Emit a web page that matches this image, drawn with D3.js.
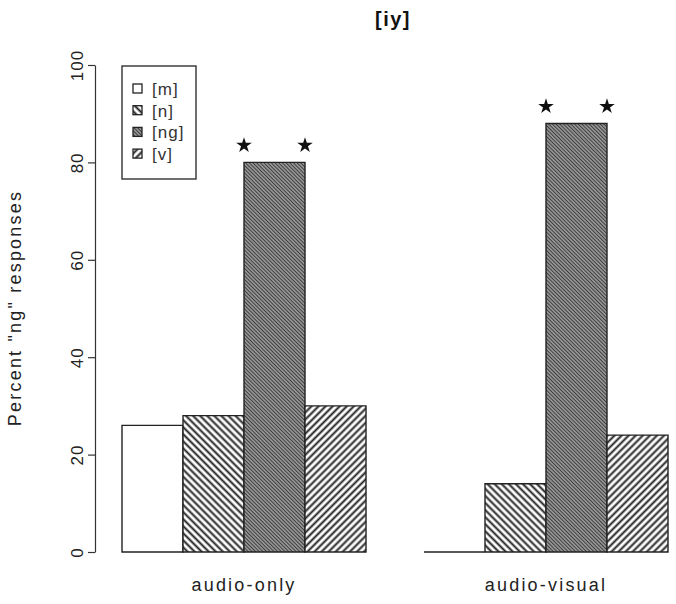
<!DOCTYPE html>
<html>
<head>
<meta charset="utf-8">
<script src="https://cdn.jsdelivr.net/npm/d3@7"></script>
<style>
  body { margin: 0; background: #fff; }
  svg { display: block; font-family: "Liberation Sans", Arial, sans-serif; }
</style>
</head>
<body>
<div id="chart"></div>
<script>
// data
var groups = ["audio-only", "audio-visual"];
var sounds = ["[m]", "[n]", "[ng]", "[v]"];
var m_values = [26, 0];
var n_values = [28, 14];
var ng_values = [80, 88];
var v_values = [30, 24];
var y_ticks = [0, 20, 40, 60, 80, 100];
// significance stars sit on both edges of the [ng] bar
var star_groups = ["audio-only", "audio-visual"];

var width = 676, height = 604;

var table = [];
groups.forEach(function (g, i) {
  table.push({ group: g, sound: "[m]", value: m_values[i] });
  table.push({ group: g, sound: "[n]", value: n_values[i] });
  table.push({ group: g, sound: "[ng]", value: ng_values[i] });
  table.push({ group: g, sound: "[v]", value: v_values[i] });
});

var svg = d3.select("#chart").append("svg")
  .attr("width", width)
  .attr("height", height);

// hatch patterns, R barplot style
var defs = svg.append("defs");
function hatch(id, spacing, angle, strokeW, color, bg) {
  var p = defs.append("pattern")
    .attr("id", id)
    .attr("patternUnits", "userSpaceOnUse")
    .attr("width", spacing)
    .attr("height", spacing)
    .attr("patternTransform", "rotate(" + angle + ")");
  p.append("rect").attr("width", spacing).attr("height", spacing).attr("fill", bg);
  p.append("line")
    .attr("x1", spacing / 2).attr("x2", spacing / 2)
    .attr("y1", 0).attr("y2", spacing)
    .attr("stroke", color)
    .attr("stroke-width", strokeW);
}
hatch("pat_n", 5, -45, 2, "#222", "#fff");
hatch("pat_ng", 2.6, -45, 1.2, "#3a3a3a", "#a8a8a8");
hatch("pat_v", 5, 45, 2, "#222", "#fff");

var fills = {
  "[m]": "#fff",
  "[n]": "url(#pat_n)",
  "[ng]": "url(#pat_ng)",
  "[v]": "url(#pat_v)"
};

var x0 = d3.scaleBand().domain(groups).range([122, 668]).paddingInner(0.192).paddingOuter(0);
var x1 = d3.scaleBand().domain(sounds).range([0, x0.bandwidth()]).padding(0);
var y = d3.scaleLinear().domain([0, 100]).range([552, 65]);

// bars as closed paths so a zero bar still shows as a line
svg.append("g").selectAll("path.bar")
  .data(table)
  .enter()
  .append("path")
  .attr("class", "bar")
  .attr("d", function (d) {
    var xa = x0(d.group) + x1(d.sound), xb = xa + x1.bandwidth();
    return "M" + xa + "," + y(0) + "V" + y(d.value) + "H" + xb + "V" + y(0) + "Z";
  })
  .attr("fill", function (d) { return fills[d.sound]; })
  .attr("stroke", "#222")
  .attr("stroke-width", 1.4);

// stars
var starSym = d3.symbol().type(d3.symbolStar).size(75);
star_groups.forEach(function (g) {
  var i = groups.indexOf(g);
  var top = y(ng_values[i]) - 17;
  [x0(g) + x1("[ng]"), x0(g) + x1("[ng]") + x1.bandwidth()].forEach(function (sx) {
    svg.append("path")
      .attr("d", starSym)
      .attr("transform", "translate(" + sx + "," + top + ")")
      .attr("fill", "#111");
  });
});

// y axis
var yAxis = d3.axisLeft(y).tickValues(y_ticks).tickSize(7).tickSizeOuter(0).tickPadding(0);
var gy = svg.append("g")
  .attr("class", "y-axis")
  .attr("transform", "translate(95,0)")
  .call(yAxis);
gy.select(".domain").attr("stroke", "#333").attr("stroke-width", 1.2);
gy.selectAll(".tick line").attr("stroke", "#333").attr("stroke-width", 1.2);
gy.selectAll(".tick text")
  .attr("transform", "translate(-18,0) rotate(-90)")
  .attr("x", 0)
  .attr("y", 0)
  .attr("dy", "0.35em")
  .attr("text-anchor", "middle")
  .attr("font-size", 17)
  .attr("letter-spacing", 1)
  .attr("fill", "#222");

// y label
svg.append("text")
  .attr("transform", "translate(21,308) rotate(-90)")
  .attr("text-anchor", "middle")
  .attr("font-size", 18)
  .attr("letter-spacing", 2.2)
  .attr("fill", "#222")
  .text('Percent "ng" responses');

// group labels
svg.selectAll("text.group")
  .data(groups)
  .enter()
  .append("text")
  .attr("class", "group")
  .attr("x", function (d) { return x0(d) + x0.bandwidth() / 2; })
  .attr("y", 591)
  .attr("text-anchor", "middle")
  .attr("font-size", 18)
  .attr("letter-spacing", 2.2)
  .attr("fill", "#222")
  .text(function (d) { return d; });

// title
svg.append("text")
  .attr("x", 393)
  .attr("y", 26)
  .attr("text-anchor", "middle")
  .attr("font-size", 20)
  .attr("letter-spacing", 1.5)
  .attr("font-weight", "bold")
  .attr("fill", "#111")
  .text("[iy]");

// legend
var legend = svg.append("g").attr("transform", "translate(122,66)");
legend.append("rect")
  .attr("width", 74)
  .attr("height", 113)
  .attr("fill", "#fff")
  .attr("stroke", "#333")
  .attr("stroke-width", 1.4);
var rows = legend.selectAll("g.row")
  .data(sounds)
  .enter()
  .append("g")
  .attr("class", "row")
  .attr("transform", function (d, i) { return "translate(0," + (23 + i * 21.7) + ")"; });
rows.append("rect")
  .attr("x", 11)
  .attr("y", -5)
  .attr("width", 9)
  .attr("height", 9)
  .attr("fill", function (d) { return fills[d]; })
  .attr("stroke", "#222")
  .attr("stroke-width", 1.3);
rows.append("text")
  .attr("x", 30)
  .attr("y", 0)
  .attr("dy", "0.35em")
  .attr("font-size", 17)
  .attr("letter-spacing", 1)
  .attr("fill", "#333")
  .text(function (d) { return d; });
</script>
</body>
</html>
